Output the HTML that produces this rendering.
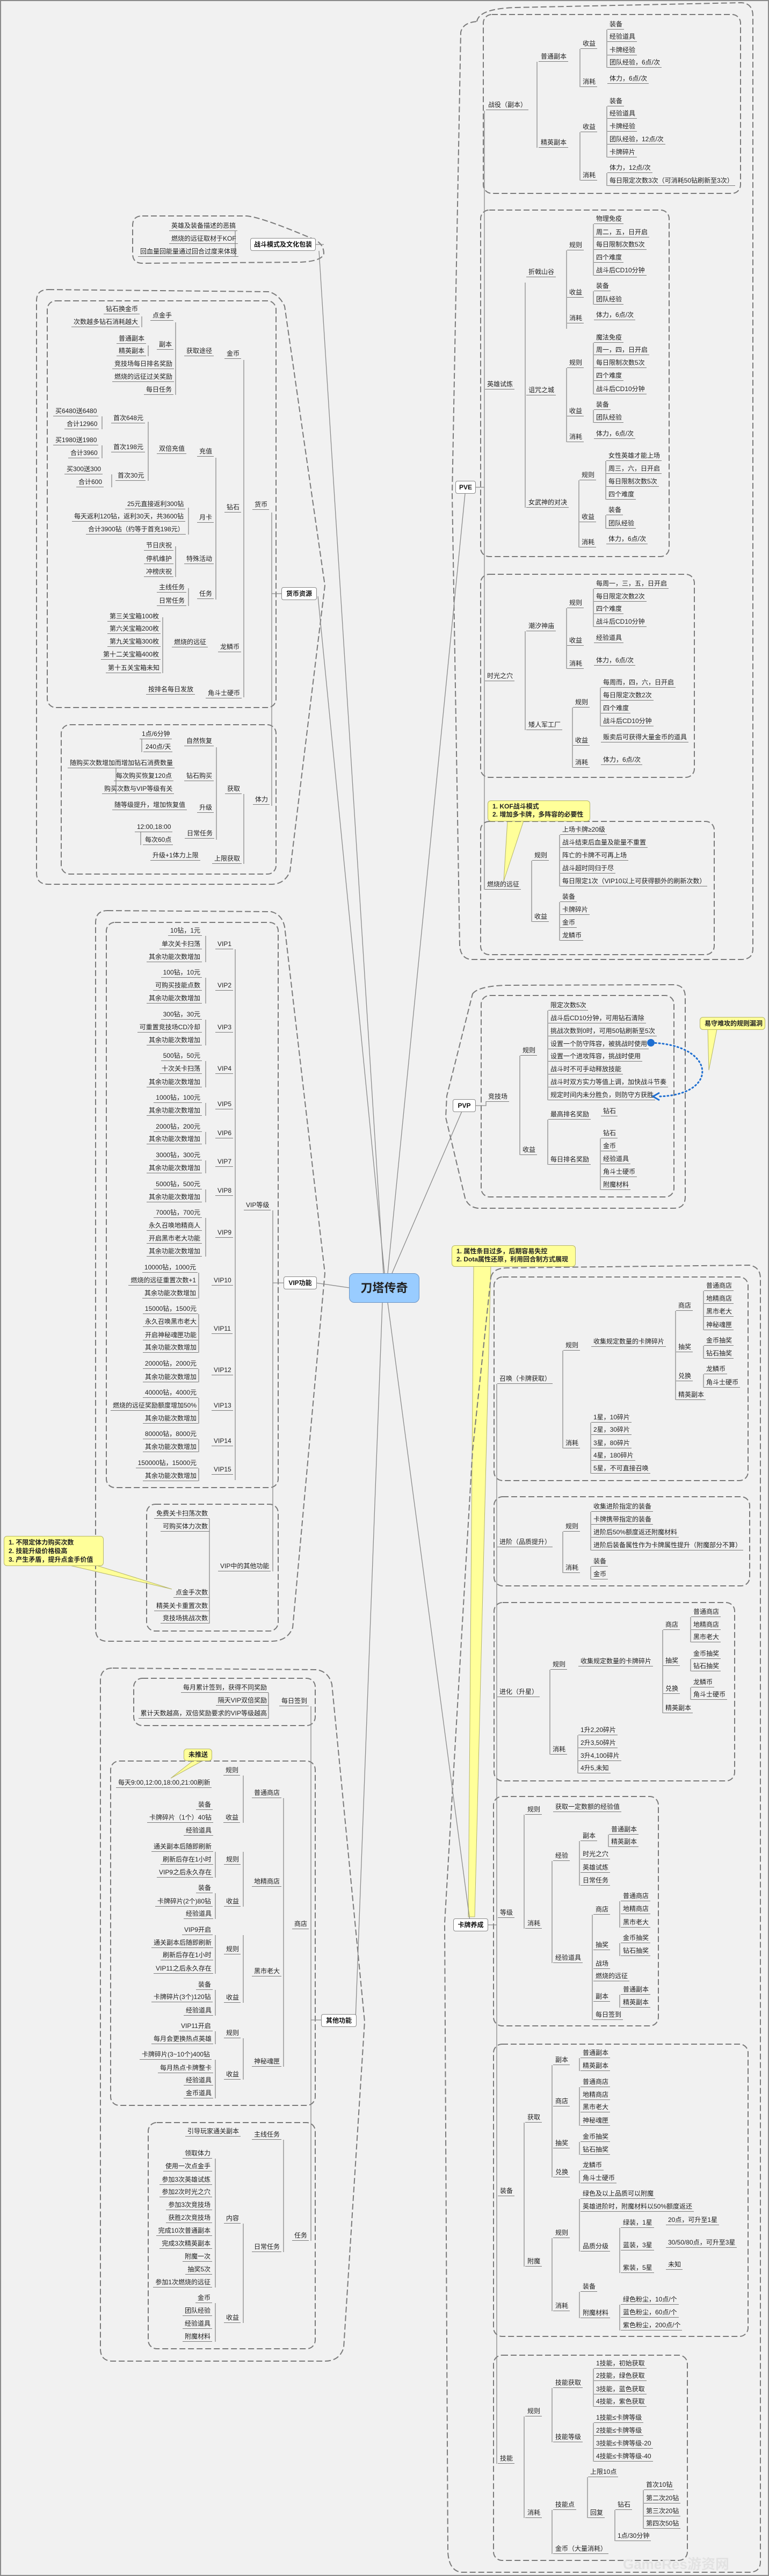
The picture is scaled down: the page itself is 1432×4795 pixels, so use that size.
<!DOCTYPE html>
<html><head><meta charset="utf-8"><style>
html,body{margin:0;padding:0}
body{width:1432px;height:4795px;position:relative;overflow:hidden;background:#f1f1f1;font-family:"Liberation Sans","Noto Sans CJK SC",sans-serif}
#frame{position:absolute;left:0;top:0;width:1428px;height:4791px;border:2px solid #8a8a8a}
svg{position:absolute;left:0;top:0}
i{position:absolute;font-style:normal;font-size:12px;line-height:17px;height:17px;color:#222;white-space:nowrap;border-bottom:1px solid #7a7a7a;padding:0 3px 0 4px}
.n{position:absolute;background:#fff;border:1px solid #888;border-radius:4px;font-weight:bold;font-size:12px;line-height:22px;text-align:center;color:#111;white-space:nowrap}
.c{position:absolute;background:#ffff99;border:1px solid #b5b56a;border-radius:6px;font-weight:bold;font-size:12px;line-height:15px;color:#222;padding:3px 8px;white-space:nowrap;box-sizing:border-box}
</style></head><body>
<div id="frame"></div>
<svg width="1432" height="4795" viewBox="0 0 1432 4795">
<g fill="#ffff99" stroke="#b5b56a" stroke-width="1">
<polygon points="945,1528 975,1528 938,1640"/>
<polygon points="130,2914 180,2914 320,2958"/>
<polygon points="360,3277 378,3277 318,3310"/>
<polygon points="1318,1916 1335,1916 1320,1992"/>
<polygon points="882,2356 914,2356 884,3568 872,3568"/>
</g>
<g fill="none" stroke="#7a7a7a" stroke-width="2" stroke-dasharray="11 5">
<path d="M888 40 Q892 16 960 14 L1380 5 Q1402 6 1402 30 V1766 Q1402 1786 1380 1786 L880 1786 Q858 1786 856 1760 L842 920 L858 60 Q862 42 888 40 Z"/>
<rect x="900" y="27" width="479" height="333" rx="16"/>
<rect x="895" y="391" width="351" height="645" rx="16"/>
<rect x="895" y="1069" width="398" height="378" rx="16"/>
<rect x="895" y="1529" width="435" height="248" rx="16"/>
<path d="M880 1850 Q890 1836 940 1834 L1255 1833 Q1276 1834 1276 1856 V2228 Q1276 2249 1255 2249 L890 2249 Q872 2247 866 2230 L830 2080 L832 2040 Z"/>
<rect x="896" y="1853" width="359" height="375" rx="16"/>
<path d="M914 2378 Q918 2360 945 2360 L1395 2355 Q1416 2358 1416 2380 V4768 Q1416 4788 1395 4788 L860 4788 Q836 4786 834 4750 L828 3580 L880 2700 Z"/>
<rect x="920" y="2377" width="473" height="379" rx="16"/>
<rect x="920" y="2786" width="476" height="166" rx="16"/>
<rect x="920" y="2983" width="448" height="332" rx="16"/>
<rect x="919" y="3344" width="307" height="427" rx="16"/>
<rect x="919" y="3805" width="474" height="544" rx="16"/>
<rect x="919" y="4384" width="361" height="382" rx="16"/>
<path d="M265 402 L460 402 Q490 405 588 447 Q603 456 603 472 Q600 486 560 488 L265 490 Q247 490 247 472 V420 Q247 402 265 402 Z"/>
<path d="M90 539 L500 543 Q520 548 530 570 L605 1090 L540 1622 Q530 1646 505 1646 L90 1646 Q68 1646 68 1625 V560 Q68 539 90 539 Z"/>
<rect x="88" y="560" width="426" height="757" rx="16"/>
<rect x="114" y="1349" width="400" height="278" rx="16"/>
<path d="M200 1695 L505 1697 Q525 1702 530 1725 L605 2370 L545 3030 Q535 3055 505 3055 L200 3055 Q178 3055 178 3032 V1718 Q178 1695 200 1695 Z"/>
<rect x="198" y="1717" width="320" height="1052" rx="16"/>
<rect x="273" y="2800" width="245" height="236" rx="16"/>
<path d="M210 3105 L590 3108 Q612 3112 618 3135 L679 3763 L640 4370 Q632 4395 605 4395 L210 4395 Q187 4395 187 4372 V3128 Q187 3105 210 3105 Z"/>
<rect x="249" y="3124" width="338" height="88" rx="16"/>
<rect x="206" y="3278" width="381" height="641" rx="16"/>
<rect x="276" y="3951" width="311" height="421" rx="16"/>
</g>
<g stroke="#8a8a8a" stroke-width="1.3" fill="none">
<line x1="714" y1="2370" x2="594" y2="467"/>
<line x1="716" y1="2370" x2="592" y2="1110"/>
<line x1="722" y1="2370" x2="866" y2="919"/>
<line x1="730" y1="2370" x2="863" y2="2062"/>
<line x1="588" y1="2388" x2="650" y2="2397"/>
<line x1="712" y1="2425" x2="662" y2="3760"/>
<line x1="722" y1="2425" x2="876" y2="3583"/>
<path d="M884 907 H902 M902 206 V1656 M884 2058 H905 V2050"/>
<path d="M1000 115 V275 M1080 91 V162 M1080 246 V336 M1130 55 V126 M1130 198 V293 M1130 322 V346"/>
<path d="M978 526 V945 M1055 466 V612 M1105 417 V513 M1105 542 V567 M1055 685 V823 M1105 638 V734 M1105 763 V787 M1078 894 V1019 M1128 858 V930 M1128 959 V984"/>
<path d="M978 1175 V1359 M1055 1132 V1245 M1105 1096 V1167 M1066 1317 V1429 M1118 1280 V1352"/>
<path d="M990 1602 V1716 M1042 1554 V1650 M1042 1679 V1751"/>
<path d="M905 2051 V2051 M968 1965 V2150 M1020 1881 V2048 M1020 2084 V2168 M1118 2119 V2215"/>
<path d="M907 3583 H925 M925 2576 V4586 M1048 2514 V2696 M1258 2440 V2606 M1310 2403 V2476 M1310 2505 V2529 M1310 2558 V2583 M1100 2648 V2743 M1048 2851 V2928 M1100 2814 V2886 M1100 2916 V2940 M1024 3108 V3266 M1234 3034 V3189 M1286 3010 V3057 M1286 3088 V3111 M1286 3141 V3164 M1076 3230 V3301"/>
<path d="M976 3378 V3590 M1028 3464 V3654 M1079 3427 V3510 M1133 3415 V3438 M1103 3564 V3760 M1154 3539 V3588 M1154 3617 V3641 M1154 3713 V3737"/>
<path d="M976 3951 V4219 M1028 3844 V4053 M1079 3831 V3855 M1079 3885 V3957 M1079 3987 V4011 M1079 4040 V4064 M1028 4166 V4302 M1079 4093 V4191 M1154 4147 V4231 M1240 4142 V4142 M1079 4266 V4315 M1154 4290 V4338"/>
<path d="M976 4498 V4687 M1028 4445 V4546 M1105 4409 V4480 M1105 4510 V4582 M1028 4672 V4754 M1094 4611 V4687 M1145 4672 V4730 M1198 4635 V4707"/>
<path d="M588 455 H603 M438 430 V478"/>
<path d="M588 1105 H506 M506 954 V1500 M454 670 V1298 M402 852 V1116 M327 600 V735 M264 589 V609 M276 643 V663 M276 785 V895 M190 775 V799 M190 829 V853 M208 883 V907 M351 945 V995 M327 1017 V1074 M351 1095 V1128 M303 1149 V1253 M454 1478 V1608 M403 1391 V1563 M264 1376 V1400 M216 1430 V1478 M262 1549 V1573"/>
<path d="M528 2388 H508 M508 2253 V2925 M438 1767 V2755 M383 1742 V1791 M383 1820 V1868 M383 1898 V1946 M383 1975 V2024 M383 2053 V2077 M383 2107 V2130 M383 2160 V2184 M383 2214 V2238 M383 2267 V2339 M370 2369 V2417 M370 2446 V2518 M370 2548 V2573 M370 2602 V2650 M370 2679 V2703 M370 2733 V2757 M390 2827 V3022"/>
<path d="M598 3760 H579 M579 3176 V4171 M500 3151 V3199 M528 3347 V3847 M453 3305 V3393 M453 3447 V3549 M453 3602 V3728 M453 3794 V3871 M401 3447 V3495 M401 3524 V3572 M401 3602 V3674 M401 3704 V3752 M401 3781 V3805 M401 3834 V3906 M528 3983 V4192 M453 4139 V4324 M401 4018 V4258 M401 4287 V4359"/>
</g>
<path d="M1213 1941 C1335 1945 1340 2040 1224 2041" fill="none" stroke="#1f6fd1" stroke-width="3" stroke-dasharray="2 5" stroke-linecap="round"/>
<circle cx="1212" cy="1941" r="7" fill="#1f6fd1"/>
<path d="M1228 2034 L1216 2041 L1228 2048" fill="none" stroke="#1f6fd1" stroke-width="3"/>
<text x="1160" y="4782" font-family="Liberation Sans,Noto Sans CJK SC,sans-serif" font-size="26" font-weight="bold" fill="#e2e2e2">GameRes游资网</text>
</svg>

<div style="position:absolute;left:650px;top:2370px;width:131px;height:55px;background:#99ccff;border:1px solid #6b94c4;border-radius:10px;box-sizing:border-box;font-weight:bold;font-size:22px;line-height:53px;text-align:center;color:#222">刀塔传奇</div>
<div class="n" style="left:466px;top:443px;width:120px">战斗模式及文化包装</div>
<div class="n" style="left:524px;top:1093px;width:64px">货币资源</div>
<div class="n" style="left:528px;top:2376px;width:60px">VIP功能</div>
<div class="n" style="left:598px;top:3749px;width:64px">其他功能</div>
<div class="n" style="left:848px;top:895px;width:36px">PVE</div>
<div class="n" style="left:843px;top:2046px;width:41px">PVP</div>
<div class="n" style="left:844px;top:3571px;width:63px">卡牌养成</div>

<div class="c" style="left:908px;top:1490px;width:191px;height:39px">1. KOF战斗模式<br>2. 增加多卡牌，多阵容的必要性</div>
<div class="c" style="left:1303px;top:1893px;width:122px;height:24px;line-height:17px">易守难攻的规则漏洞</div>
<div class="c" style="left:841px;top:2318px;width:231px;height:40px">1. 属性条目过多，后期容易失控<br>2. Dota属性还原，利用回合制方式展现</div>
<div class="c" style="left:7px;top:2859px;width:186px;height:56px;line-height:16px">1. 不限定体力购买次数<br>2. 技能升级价格极高<br>3. 产生矛盾，提升点金手价值</div>
<div class="c" style="left:342px;top:3255px;width:53px;height:23px;line-height:15px">未推送</div>

<!-- 战斗模式 -->
<i style="left:315px;top:412px">英雄及装备描述的恶搞</i>
<i style="left:315px;top:436px">燃烧的远征取材于KOF</i>
<i style="left:257px;top:460px">回血量回能量通过回合过度来体现</i>

<!-- 战役 -->
<i style="left:905px;top:187px">战役（副本）</i>
<i style="left:1003px;top:97px">普通副本</i>
<i style="left:1081px;top:73px">收益</i>
<i style="left:1131px;top:37px">装备</i><i style="left:1131px;top:60px">经验道具</i><i style="left:1131px;top:85px">卡牌经验</i><i style="left:1131px;top:108px">团队经验，6点/次</i>
<i style="left:1081px;top:144px">消耗</i><i style="left:1131px;top:138px">体力，6点/次</i>
<i style="left:1003px;top:257px">精英副本</i>
<i style="left:1081px;top:228px">收益</i>
<i style="left:1131px;top:180px">装备</i><i style="left:1131px;top:203px">经验道具</i><i style="left:1131px;top:227px">卡牌经验</i><i style="left:1131px;top:251px">团队经验，12点/次</i><i style="left:1131px;top:275px">卡牌碎片</i>
<i style="left:1081px;top:318px">消耗</i><i style="left:1131px;top:304px">体力，12点/次</i><i style="left:1131px;top:328px">每日限定次数3次（可消耗50钻刷新至3次）</i>

<!-- 英雄试炼 -->
<i style="left:903px;top:707px">英雄试炼</i>
<i style="left:980px;top:498px">折戟山谷</i>
<i style="left:1056px;top:448px">规则</i>
<i style="left:1106px;top:399px">物理免疫</i><i style="left:1106px;top:424px">周二，五，日开启</i><i style="left:1106px;top:447px">每日限制次数5次</i><i style="left:1106px;top:471px">四个难度</i><i style="left:1106px;top:495px">战斗后CD10分钟</i>
<i style="left:1056px;top:536px">收益</i><i style="left:1106px;top:524px">装备</i><i style="left:1106px;top:549px">团队经验</i>
<i style="left:1056px;top:584px">消耗</i><i style="left:1106px;top:578px">体力，6点/次</i>
<i style="left:980px;top:718px">诅咒之城</i>
<i style="left:1056px;top:667px">规则</i>
<i style="left:1106px;top:620px">魔法免疫</i><i style="left:1106px;top:643px">周一，四，日开启</i><i style="left:1106px;top:667px">每日限制次数5次</i><i style="left:1106px;top:691px">四个难度</i><i style="left:1106px;top:716px">战斗后CD10分钟</i>
<i style="left:1056px;top:757px">收益</i><i style="left:1106px;top:745px">装备</i><i style="left:1106px;top:769px">团队经验</i>
<i style="left:1056px;top:805px">消耗</i><i style="left:1106px;top:799px">体力，6点/次</i>
<i style="left:980px;top:927px">女武神的对决</i>
<i style="left:1079px;top:876px">规则</i>
<i style="left:1129px;top:840px">女性英雄才能上场</i><i style="left:1129px;top:864px">周三，六，日开启</i><i style="left:1129px;top:888px">每日限制次数5次</i><i style="left:1129px;top:912px">四个难度</i>
<i style="left:1079px;top:954px">收益</i><i style="left:1129px;top:941px">装备</i><i style="left:1129px;top:966px">团队经验</i>
<i style="left:1079px;top:1001px">消耗</i><i style="left:1129px;top:995px">体力，6点/次</i>

<!-- 时光之穴 -->
<i style="left:903px;top:1250px">时光之穴</i>
<i style="left:980px;top:1157px">潮汐神庙</i>
<i style="left:1056px;top:1114px">规则</i>
<i style="left:1106px;top:1078px">每周一，三，五，日开启</i><i style="left:1106px;top:1102px">每日限定次数2次</i><i style="left:1106px;top:1125px">四个难度</i><i style="left:1106px;top:1149px">战斗后CD10分钟</i>
<i style="left:1056px;top:1184px">收益</i><i style="left:1106px;top:1179px">经验道具</i>
<i style="left:1056px;top:1227px">消耗</i><i style="left:1106px;top:1221px">体力，6点/次</i>
<i style="left:980px;top:1341px">矮人军工厂</i>
<i style="left:1067px;top:1299px">规则</i>
<i style="left:1119px;top:1262px">每周而，四，六，日开启</i><i style="left:1119px;top:1286px">每日限定次数2次</i><i style="left:1119px;top:1310px">四个难度</i><i style="left:1119px;top:1334px">战斗后CD10分钟</i>
<i style="left:1067px;top:1370px">收益</i><i style="left:1119px;top:1364px">贩卖后可获得大量金币的道具</i>
<i style="left:1067px;top:1411px">消耗</i><i style="left:1119px;top:1406px">体力，6点/次</i>

<!-- 燃烧的远征 -->
<i style="left:903px;top:1638px">燃烧的远征</i>
<i style="left:991px;top:1584px">规则</i>
<i style="left:1043px;top:1536px">上场卡牌≥20级</i><i style="left:1043px;top:1560px">战斗结束后血量及能量不重置</i><i style="left:1043px;top:1584px">阵亡的卡牌不可再上场</i><i style="left:1043px;top:1608px">战斗超时同归于尽</i><i style="left:1043px;top:1632px">每日限定1次（VIP10以上可获得额外的刷新次数）</i>
<i style="left:991px;top:1698px">收益</i>
<i style="left:1043px;top:1661px">装备</i><i style="left:1043px;top:1685px">卡牌碎片</i><i style="left:1043px;top:1709px">金币</i><i style="left:1043px;top:1733px">龙鳞币</i>

<!-- PVP -->
<i style="left:905px;top:2033px">竞技场</i>
<i style="left:969px;top:1947px">规则</i>
<i style="left:1021px;top:1863px">限定次数5次</i><i style="left:1021px;top:1887px">战斗后CD10分钟，可用钻石清除</i><i style="left:1021px;top:1911px">挑战次数到0时，可用50钻刷新至5次</i><i style="left:1021px;top:1935px">设置一个防守阵容，被挑战时使用</i><i style="left:1021px;top:1958px">设置一个进攻阵容，挑战时使用</i><i style="left:1021px;top:1982px">战斗时不可手动释放技能</i><i style="left:1021px;top:2006px">战斗时双方实力等值上调，加快战斗节奏</i><i style="left:1021px;top:2030px">规定时间内未分胜负，则防守方获胜</i>
<i style="left:969px;top:2132px">收益</i>
<i style="left:1021px;top:2066px">最高排名奖励</i><i style="left:1119px;top:2060px">钻石</i>
<i style="left:1021px;top:2150px">每日排名奖励</i>
<i style="left:1119px;top:2101px">钻石</i><i style="left:1119px;top:2125px">金币</i><i style="left:1119px;top:2149px">经验道具</i><i style="left:1119px;top:2173px">角斗士硬币</i><i style="left:1119px;top:2197px">附魔材料</i>

<!-- 召唤 -->
<i style="left:926px;top:2558px">召唤（卡牌获取）</i>
<i style="left:1049px;top:2496px">规则</i>
<i style="left:1101px;top:2489px">收集规定数量的卡牌碎片</i>
<i style="left:1259px;top:2422px">商店</i>
<i style="left:1311px;top:2385px">普通商店</i><i style="left:1311px;top:2409px">地精商店</i><i style="left:1311px;top:2433px">黑市老大</i><i style="left:1311px;top:2458px">神秘魂匣</i>
<i style="left:1259px;top:2499px">抽奖</i><i style="left:1311px;top:2487px">金币抽奖</i><i style="left:1311px;top:2511px">钻石抽奖</i>
<i style="left:1259px;top:2553px">兑换</i><i style="left:1311px;top:2540px">龙鳞币</i><i style="left:1311px;top:2565px">角斗士硬币</i>
<i style="left:1259px;top:2588px">精英副本</i>
<i style="left:1049px;top:2678px">消耗</i>
<i style="left:1101px;top:2630px">1星，10碎片</i><i style="left:1101px;top:2653px">2星，30碎片</i><i style="left:1101px;top:2678px">3星，80碎片</i><i style="left:1101px;top:2701px">4星，180碎片</i><i style="left:1101px;top:2725px">5星，不可直接召唤</i>

<!-- 进阶 -->
<i style="left:926px;top:2862px">进阶（品质提升）</i>
<i style="left:1049px;top:2833px">规则</i>
<i style="left:1101px;top:2796px">收集进阶指定的装备</i><i style="left:1101px;top:2820px">卡牌携带指定的装备</i><i style="left:1101px;top:2844px">进阶后50%额度返还附魔材料</i><i style="left:1101px;top:2868px">进阶后装备属性作为卡牌属性提升（附魔部分不算）</i>
<i style="left:1049px;top:2910px">消耗</i><i style="left:1101px;top:2898px">装备</i><i style="left:1101px;top:2922px">金币</i>

<!-- 进化 -->
<i style="left:926px;top:3141px">进化（升星）</i>
<i style="left:1025px;top:3090px">规则</i>
<i style="left:1077px;top:3084px">收集规定数量的卡牌碎片</i>
<i style="left:1235px;top:3016px">商店</i>
<i style="left:1287px;top:2992px">普通商店</i><i style="left:1287px;top:3016px">地精商店</i><i style="left:1287px;top:3039px">黑市老大</i>
<i style="left:1235px;top:3083px">抽奖</i><i style="left:1287px;top:3070px">金币抽奖</i><i style="left:1287px;top:3093px">钻石抽奖</i>
<i style="left:1235px;top:3135px">兑换</i><i style="left:1287px;top:3123px">龙鳞币</i><i style="left:1287px;top:3146px">角斗士硬币</i>
<i style="left:1235px;top:3171px">精英副本</i>
<i style="left:1025px;top:3248px">消耗</i>
<i style="left:1077px;top:3212px">1升2,20碎片</i><i style="left:1077px;top:3236px">2升3,50碎片</i><i style="left:1077px;top:3260px">3升4,100碎片</i><i style="left:1077px;top:3283px">4升5,未知</i>

<!-- 等级 -->
<i style="left:927px;top:3552px">等级</i>
<i style="left:978px;top:3360px">规则</i><i style="left:1030px;top:3355px">获取一定数额的经验值</i>
<i style="left:978px;top:3572px">消耗</i>
<i style="left:1030px;top:3446px">经验</i>
<i style="left:1081px;top:3409px">副本</i><i style="left:1134px;top:3397px">普通副本</i><i style="left:1134px;top:3420px">精英副本</i>
<i style="left:1081px;top:3443px">时光之穴</i><i style="left:1081px;top:3468px">英雄试炼</i><i style="left:1081px;top:3492px">日常任务</i>
<i style="left:1030px;top:3636px">经验道具</i>
<i style="left:1105px;top:3546px">商店</i><i style="left:1156px;top:3521px">普通商店</i><i style="left:1156px;top:3545px">地精商店</i><i style="left:1156px;top:3570px">黑市老大</i>
<i style="left:1105px;top:3612px">抽奖</i><i style="left:1156px;top:3599px">金币抽奖</i><i style="left:1156px;top:3623px">钻石抽奖</i>
<i style="left:1105px;top:3647px">战场</i><i style="left:1105px;top:3670px">燃烧的远征</i>
<i style="left:1105px;top:3708px">副本</i><i style="left:1156px;top:3695px">普通副本</i><i style="left:1156px;top:3719px">精英副本</i>
<i style="left:1105px;top:3742px">每日签到</i>

<!-- 装备 -->
<i style="left:927px;top:4070px">装备</i>
<i style="left:978px;top:3933px">获取</i>
<i style="left:1030px;top:3826px">副本</i><i style="left:1081px;top:3813px">普通副本</i><i style="left:1081px;top:3837px">精英副本</i>
<i style="left:1030px;top:3903px">商店</i><i style="left:1081px;top:3867px">普通商店</i><i style="left:1081px;top:3891px">地精商店</i><i style="left:1081px;top:3914px">黑市老大</i><i style="left:1081px;top:3939px">神秘魂匣</i>
<i style="left:1030px;top:3981px">抽奖</i><i style="left:1081px;top:3969px">金币抽奖</i><i style="left:1081px;top:3993px">钻石抽奖</i>
<i style="left:1030px;top:4035px">兑换</i><i style="left:1081px;top:4022px">龙鳞币</i><i style="left:1081px;top:4046px">角斗士硬币</i>
<i style="left:978px;top:4201px">附魔</i>
<i style="left:1030px;top:4148px">规则</i>
<i style="left:1081px;top:4075px">绿色及以上品质可以附魔</i><i style="left:1081px;top:4099px">英雄进阶时，附魔材料以50%额度返还</i>
<i style="left:1081px;top:4173px">品质分级</i>
<i style="left:1156px;top:4129px">绿装，1星</i><i style="left:1240px;top:4124px">20点，可升至1星</i>
<i style="left:1156px;top:4171px">蓝装，3星</i><i style="left:1240px;top:4166px">30/50/80点，可升至3星</i>
<i style="left:1156px;top:4213px">紫装，5星</i><i style="left:1240px;top:4207px">未知</i>
<i style="left:1030px;top:4284px">消耗</i>
<i style="left:1081px;top:4248px">装备</i><i style="left:1081px;top:4297px">附魔材料</i>
<i style="left:1156px;top:4272px">绿色粉尘，10点/个</i><i style="left:1156px;top:4296px">蓝色粉尘，60点/个</i><i style="left:1156px;top:4320px">紫色粉尘，200点/个</i>

<!-- 技能 -->
<i style="left:927px;top:4568px">技能</i>
<i style="left:978px;top:4480px">规则</i>
<i style="left:1030px;top:4427px">技能获取</i>
<i style="left:1106px;top:4391px">1技能，初始获取</i><i style="left:1106px;top:4414px">2技能，绿色获取</i><i style="left:1106px;top:4439px">3技能，蓝色获取</i><i style="left:1106px;top:4462px">4技能，紫色获取</i>
<i style="left:1030px;top:4528px">技能等级</i>
<i style="left:1106px;top:4492px">1技能≤卡牌等级</i><i style="left:1106px;top:4516px">2技能≤卡牌等级</i><i style="left:1106px;top:4540px">3技能≤卡牌等级-20</i><i style="left:1106px;top:4564px">4技能≤卡牌等级-40</i>
<i style="left:978px;top:4669px">消耗</i>
<i style="left:1030px;top:4654px">技能点</i>
<i style="left:1095px;top:4593px">上限10点</i><i style="left:1095px;top:4669px">回复</i>
<i style="left:1146px;top:4654px">钻石</i><i style="left:1146px;top:4712px">1点/30分钟</i>
<i style="left:1199px;top:4617px">首次10钻</i><i style="left:1199px;top:4642px">第二次20钻</i><i style="left:1199px;top:4666px">第三次20钻</i><i style="left:1199px;top:4689px">第四次50钻</i>
<i style="left:1030px;top:4736px">金币（大量消耗）</i>

<!-- 货币资源 -->
<i style="left:470px;top:931px">货币</i>
<i style="left:418px;top:650px">金币</i>
<i style="left:343px;top:645px">获取途径</i>
<i style="left:280px;top:579px">点金手</i>
<i style="left:193px;top:567px">钻石换金币</i>
<i style="left:133px;top:591px">次数越多钻石消耗越大</i>
<i style="left:292px;top:633px">副本</i>
<i style="left:217px;top:622px">普通副本</i><i style="left:217px;top:645px">精英副本</i>
<i style="left:209px;top:669px">竞技场每日排名奖励</i>
<i style="left:209px;top:693px">燃烧的远征过关奖励</i>
<i style="left:268px;top:717px">每日任务</i>
<i style="left:418px;top:936px">钻石</i>
<i style="left:367px;top:832px">充值</i>
<i style="left:292px;top:827px">双倍充值</i>
<i style="left:207px;top:770px">首次648元</i><i style="left:99px;top:757px">买6480送6480</i><i style="left:120px;top:781px">合计12960</i>
<i style="left:207px;top:824px">首次198元</i><i style="left:99px;top:811px">买1980送1980</i><i style="left:127px;top:835px">合计3960</i>
<i style="left:215px;top:877px">首次30元</i><i style="left:120px;top:865px">买300送300</i><i style="left:142px;top:889px">合计600</i>
<i style="left:367px;top:955px">月卡</i>
<i style="left:233px;top:930px">25元直接返利300钻</i>
<i style="left:134px;top:953px">每天返利120钻，返利30天，共3600钻</i>
<i style="left:160px;top:977px">合计3900钻（约等于首充198元）</i>
<i style="left:343px;top:1032px">特殊活动</i>
<i style="left:268px;top:1007px">节日庆祝</i><i style="left:268px;top:1032px">停机维护</i><i style="left:268px;top:1056px">冲榜庆祝</i>
<i style="left:367px;top:1097px">任务</i>
<i style="left:292px;top:1085px">主线任务</i><i style="left:292px;top:1110px">日常任务</i>
<i style="left:406px;top:1196px">龙鳞币</i>
<i style="left:320px;top:1187px">燃烧的远征</i>
<i style="left:200px;top:1139px">第三关宝箱100枚</i><i style="left:200px;top:1162px">第六关宝箱200枚</i><i style="left:200px;top:1186px">第九关宝箱300枚</i><i style="left:188px;top:1210px">第十二关宝箱400枚</i><i style="left:197px;top:1235px">第十五关宝箱未知</i>
<i style="left:383px;top:1282px">角斗士硬币</i>
<i style="left:272px;top:1275px">按排名每日发放</i>

<!-- 体力 -->
<i style="left:471px;top:1480px">体力</i>
<i style="left:419px;top:1460px">获取</i>
<i style="left:343px;top:1371px">自然恢复</i>
<i style="left:260px;top:1358px">1点/6分钟</i><i style="left:267px;top:1382px">240点/天</i>
<i style="left:343px;top:1436px">钻石购买</i>
<i style="left:126px;top:1412px">随购买次数增加而增加钻石消费数量</i>
<i style="left:212px;top:1436px">每次购买恢复120点</i>
<i style="left:190px;top:1460px">购买次数与VIP等级有关</i>
<i style="left:367px;top:1495px">升级</i><i style="left:209px;top:1490px">随等级提升，增加恢复值</i>
<i style="left:344px;top:1543px">日常任务</i>
<i style="left:251px;top:1531px">12:00,18:00</i><i style="left:266px;top:1555px">每次60点</i>
<i style="left:395px;top:1590px">上限获取</i><i style="left:280px;top:1584px">升级+1体力上限</i>

<!-- VIP -->
<i style="left:454px;top:2235px">VIP等级</i>
<i style="left:401px;top:1749px">VIP1</i><i style="right:1056px;top:1724px">10钻，1元</i><i style="right:1056px;top:1749px">单次关卡扫荡</i><i style="right:1056px;top:1773px">其余功能次数增加</i>
<i style="left:401px;top:1826px">VIP2</i><i style="right:1056px;top:1802px">100钻，10元</i><i style="right:1056px;top:1826px">可购买技能点数</i><i style="right:1056px;top:1850px">其余功能次数增加</i>
<i style="left:401px;top:1904px">VIP3</i><i style="right:1056px;top:1880px">300钻，30元</i><i style="right:1056px;top:1904px">可重置竞技场CD冷却</i><i style="right:1056px;top:1928px">其余功能次数增加</i>
<i style="left:401px;top:1981px">VIP4</i><i style="right:1056px;top:1957px">500钻，50元</i><i style="right:1056px;top:1981px">十次关卡扫荡</i><i style="right:1056px;top:2006px">其余功能次数增加</i>
<i style="left:401px;top:2047px">VIP5</i><i style="right:1056px;top:2035px">1000钻，100元</i><i style="right:1056px;top:2059px">其余功能次数增加</i>
<i style="left:401px;top:2101px">VIP6</i><i style="right:1056px;top:2089px">2000钻，200元</i><i style="right:1056px;top:2112px">其余功能次数增加</i>
<i style="left:401px;top:2154px">VIP7</i><i style="right:1056px;top:2142px">3000钻，300元</i><i style="right:1056px;top:2166px">其余功能次数增加</i>
<i style="left:401px;top:2208px">VIP8</i><i style="right:1056px;top:2196px">5000钻，500元</i><i style="right:1056px;top:2220px">其余功能次数增加</i>
<i style="left:401px;top:2286px">VIP9</i><i style="right:1056px;top:2249px">7000钻，700元</i><i style="right:1056px;top:2273px">永久召唤地精商人</i><i style="right:1056px;top:2297px">开启黑市老大功能</i><i style="right:1056px;top:2321px">其余功能次数增加</i>
<i style="left:394px;top:2375px">VIP10</i><i style="right:1064px;top:2351px">10000钻，1000元</i><i style="right:1064px;top:2375px">燃烧的远征重置次数+1</i><i style="right:1064px;top:2399px">其余功能次数增加</i>
<i style="left:394px;top:2465px">VIP11</i><i style="right:1063px;top:2428px">15000钻，1500元</i><i style="right:1063px;top:2452px">永久召唤黑市老大</i><i style="right:1063px;top:2477px">开启神秘魂匣功能</i><i style="right:1063px;top:2500px">其余功能次数增加</i>
<i style="left:394px;top:2542px">VIP12</i><i style="right:1063px;top:2530px">20000钻，2000元</i><i style="right:1063px;top:2555px">其余功能次数增加</i>
<i style="left:394px;top:2608px">VIP13</i><i style="right:1063px;top:2584px">40000钻，4000元</i><i style="right:1063px;top:2608px">燃烧的远征奖励额度增加50%</i><i style="right:1063px;top:2632px">其余功能次数增加</i>
<i style="left:394px;top:2674px">VIP14</i><i style="right:1063px;top:2661px">80000钻，8000元</i><i style="right:1063px;top:2685px">其余功能次数增加</i>
<i style="left:394px;top:2727px">VIP15</i><i style="right:1063px;top:2715px">150000钻，15000元</i><i style="right:1063px;top:2739px">其余功能次数增加</i>
<i style="left:406px;top:2907px">VIP中的其他功能</i>
<i style="right:1042px;top:2809px">免费关卡扫荡次数</i><i style="right:1042px;top:2833px">可购买体力次数</i><i style="right:1042px;top:2956px">点金手次数</i><i style="right:1042px;top:2981px">精英关卡重置次数</i><i style="right:1042px;top:3004px">竞技场挑战次数</i>

<!-- 其他功能 -->
<i style="left:520px;top:3158px">每日签到</i>
<i style="right:932px;top:3133px">每月累计签到，获得不同奖励</i>
<i style="right:932px;top:3157px">隔天VIP双倍奖励</i>
<i style="right:932px;top:3181px">累计天数越高，双倍奖励要求的VIP等级越高</i>
<i style="left:544px;top:3573px">商店</i>
<i style="left:469px;top:3329px">普通商店</i>
<i style="left:416px;top:3287px">规则</i><i style="left:216px;top:3310px">每天9:00,12:00,18:00,21:00刷新</i>
<i style="left:416px;top:3375px">收益</i><i style="left:365px;top:3351px">装备</i><i style="left:274px;top:3375px">卡牌碎片（1个）40钻</i><i style="left:342px;top:3399px">经验道具</i>
<i style="left:469px;top:3494px">地精商店</i>
<i style="left:417px;top:3453px">规则</i><i style="left:282px;top:3429px">通关副本后随即刷新</i><i style="left:299px;top:3453px">刷新后存在1小时</i><i style="left:292px;top:3477px">VIP9之后永久存在</i>
<i style="left:417px;top:3531px">收益</i><i style="left:365px;top:3506px">装备</i><i style="left:289px;top:3531px">卡牌碎片(2个)80钻</i><i style="left:342px;top:3554px">经验道具</i>
<i style="left:469px;top:3661px">黑市老大</i>
<i style="left:417px;top:3620px">规则</i><i style="left:339px;top:3584px">VIP9开启</i><i style="left:282px;top:3608px">通关副本后随即刷新</i><i style="left:299px;top:3631px">刷新后存在1小时</i><i style="left:286px;top:3656px">VIP11之后永久存在</i>
<i style="left:417px;top:3710px">收益</i><i style="left:365px;top:3686px">装备</i><i style="left:282px;top:3709px">卡牌碎片(3个)120钻</i><i style="left:342px;top:3734px">经验道具</i>
<i style="left:469px;top:3829px">神秘魂匣</i>
<i style="left:417px;top:3776px">规则</i><i style="left:333px;top:3763px">VIP11开启</i><i style="left:282px;top:3787px">每月会更换热点英雄</i>
<i style="left:417px;top:3853px">收益</i><i style="left:260px;top:3816px">卡牌碎片(3~10个)400钻</i><i style="left:294px;top:3841px">每月热点卡牌整卡</i><i style="left:342px;top:3864px">经验道具</i><i style="left:342px;top:3888px">金币道具</i>
<i style="left:544px;top:4153px">任务</i>
<i style="left:469px;top:3965px">主线任务</i><i style="left:345px;top:3959px">引导玩家通关副本</i>
<i style="left:469px;top:4174px">日常任务</i>
<i style="left:417px;top:4121px">内容</i>
<i style="right:1037px;top:4000px">领取体力</i><i style="right:1037px;top:4024px">使用一次点金手</i><i style="right:1037px;top:4049px">参加3次英雄试炼</i><i style="right:1037px;top:4072px">参加2次时光之穴</i><i style="right:1037px;top:4096px">参加3次竞技场</i><i style="right:1037px;top:4120px">获胜2次竞技场</i><i style="right:1037px;top:4144px">完成10次普通副本</i><i style="right:1037px;top:4168px">完成3次精英副本</i><i style="right:1037px;top:4192px">附魔一次</i><i style="right:1037px;top:4216px">抽奖5次</i><i style="right:1037px;top:4240px">参加1次燃烧的远征</i>
<i style="left:417px;top:4306px">收益</i>
<i style="right:1037px;top:4269px">金币</i><i style="right:1037px;top:4293px">团队经验</i><i style="right:1037px;top:4317px">经验道具</i><i style="right:1037px;top:4341px">附魔材料</i>
</body></html>
